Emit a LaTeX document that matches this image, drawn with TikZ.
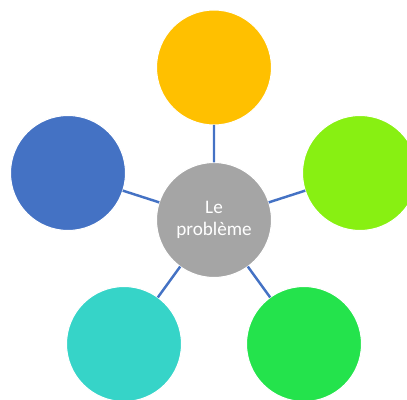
\documentclass[tikz,border=0pt]{standalone}
\usepackage{fontspec}
\setmainfont{Carlito}
\usepackage{tikz}
\usetikzlibrary{positioning}

\definecolor{probgray}{HTML}{A5A5A5}
\definecolor{linkblue}{HTML}{4472C4}
\definecolor{ideaorange}{HTML}{FFC000}
\definecolor{idealime}{HTML}{88F012}
\definecolor{ideablue}{HTML}{4472C4}
\definecolor{ideateal}{HTML}{36D4C8}
\definecolor{ideagreen}{HTML}{24E34C}

\tikzset{
  bubble/.style={circle, minimum size=2.3cm, inner sep=0pt, outer sep=0pt,
    draw=white, line width=0.6pt},
  link/.style={draw=linkblue, line width=1.4pt}
}

\begin{document}
\begin{tikzpicture}[on grid]
        \useasboundingbox (0,0) rectangle (8.14,-8.00);

        \node[bubble, fill=probgray, text=white, align=center,
              font=\fontsize{10.9}{12.2}\selectfont]
                                  (pb)  at (4.28,-4.40) {Le\\problème};
        \node[bubble, fill=ideaorange] (top)   [above=3.05cm of pb] {};
        \node[bubble, fill=idealime]   (right) [above right=0.94cm and 2.92cm of pb] {};
        \node[bubble, fill=ideablue]   (left)  [above left=0.94cm and 2.92cm of pb] {};
        \node[bubble, fill=ideateal]   (botl)  [below left=2.48cm and 1.80cm of pb] {};
        \node[bubble, fill=ideagreen]  (botr)  [below right=2.48cm and 1.80cm of pb] {};

        \path[link]
          (pb) -- (top)
          (pb) -- (right)
          (pb) -- (left)
          (pb) -- (botl)
          (pb) -- (botr);
      \end{tikzpicture}
\end{document}
